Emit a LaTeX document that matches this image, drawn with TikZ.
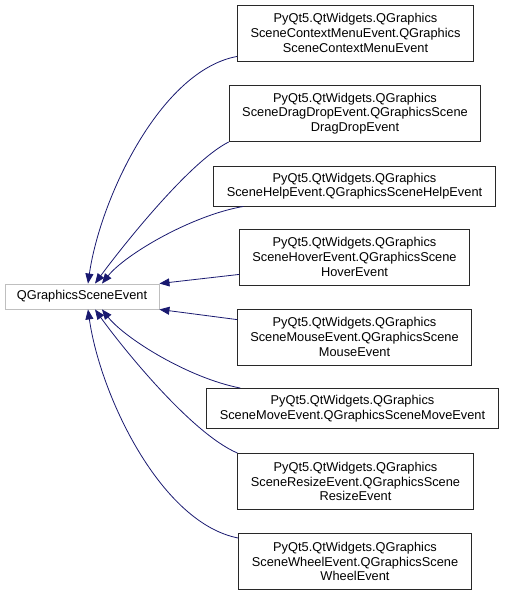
\documentclass[tikz,border=0pt]{standalone}
\usepackage{fontspec}
\setmainfont{Liberation Sans}
\definecolor{EdgeNavy}{RGB}{25,25,112}
\definecolor{BaseGrey}{RGB}{191,191,191}
\definecolor{BoxBlack}{RGB}{40,40,40}
\usetikzlibrary{arrows.meta,positioning,calc}

\begin{document}
\begin{tikzpicture}[x=1pt,y=-1pt,
    every node/.style={font=\fontsize{12.8}{14.6}\selectfont},
    cls/.style={draw=BoxBlack,line width=0.9pt,align=center,inner xsep=13pt,minimum height=56pt},
    flat/.style={cls,minimum height=40pt},
    base/.style={draw=BaseGrey,line width=0.9pt,minimum width=154pt,minimum height=25pt,inner sep=0pt},
    edge/.style={draw=EdgeNavy,line width=0.8pt,-{Triangle[length=10pt,width=8pt,fill=EdgeNavy]}}]
                    \useasboundingbox (0,0) rectangle (508,595);
                    % base class
                    \node[base] (scene) at (82,296.5) {QGraphicsSceneEvent};
                    % derived classes
                    \node[cls] (ctx) at (355.5,33) {PyQt5.QtWidgets.QGraphics\\SceneContextMenuEvent.QGraphics\\SceneContextMenuEvent};
                    \node[cls] (drag) at (355,113.5) {PyQt5.QtWidgets.QGraphics\\SceneDragDropEvent.QGraphicsScene\\DragDropEvent};
                    \node[flat] (help) at (354.5,186) {PyQt5.QtWidgets.QGraphics\\SceneHelpEvent.QGraphicsSceneHelpEvent};
                    \node[cls] (hover) at (354.5,257) {PyQt5.QtWidgets.QGraphics\\SceneHoverEvent.QGraphicsScene\\HoverEvent};
                    \node[cls] (mouse) at (354.5,337) {PyQt5.QtWidgets.QGraphics\\SceneMouseEvent.QGraphicsScene\\MouseEvent};
                    \node[flat] (move) at (352.5,408.5) {PyQt5.QtWidgets.QGraphics\\SceneMoveEvent.QGraphicsSceneMoveEvent};
                    \node[cls] (resize) at (355.5,481.5) {PyQt5.QtWidgets.QGraphics\\SceneResizeEvent.QGraphicsScene\\ResizeEvent};
                    \node[cls] (wheel) at (355,561.5) {PyQt5.QtWidgets.QGraphics\\SceneWheelEvent.QGraphicsScene\\WheelEvent};
                    % inheritance arrows
                    \draw[edge] ([yshift=5pt]ctx.south west) .. controls +(-77,14) and +(12,-84) .. ([xshift=6pt]scene.north);
                    \draw[edge] (drag.south west) .. controls +(-40,20) and +(25,-34) .. ([xshift=13pt]scene.north);
                    \draw[edge] ([xshift=30pt]help.south west) .. controls +(-52,9) and +(23,-29) .. ([xshift=20pt]scene.north);
                    \draw[edge] ([yshift=11pt]hover.south west) -- (scene.north east);
                    \draw[edge] ([yshift=-11pt]mouse.north west) -- (scene.south east);
                    \draw[edge] ([xshift=34pt]move.north west) .. controls +(-52,-10) and +(23,29) .. ([xshift=20pt]scene.south);
                    \draw[edge] (resize.north west) .. controls +(-47,-20) and +(25,35) .. ([xshift=13pt]scene.south);
                    \draw[edge] ([yshift=-5pt]wheel.north west) .. controls +(-78,-15) and +(12,85) .. ([xshift=6pt]scene.south);
                \end{tikzpicture}
\end{document}
